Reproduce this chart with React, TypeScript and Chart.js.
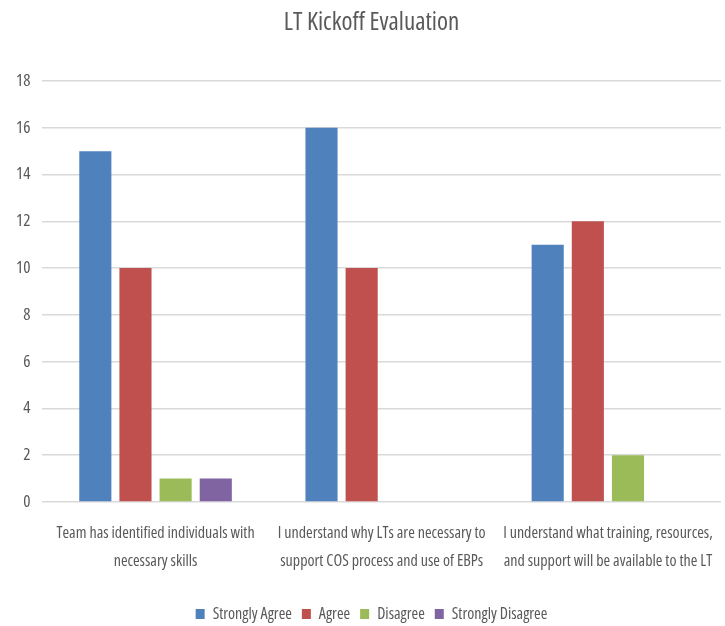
import React, { useEffect, useRef } from "react";
import { Chart, registerables } from "chart.js";
Chart.register(...registerables);

const categories: string[][] = [
  ["Team has identified individuals with", "necessary skills"],
  ["I understand why LTs are necessary to", "support COS process and use of EBPs"],
  ["I understand what training, resources,", "and support will be available to the LT"],
];
const seriesNames = ["Strongly Agree", "Agree", "Disagree", "Strongly Disagree"];
const stronglyAgree = [15, 16, 11];
const agree = [10, 10, 12];
const disagree = [1, 0, 2];
const stronglyDisagree = [1, 0, 0];
const yTickMin = 0;
const yTickMax = 18;
const yTickStep = 2;
const colors = ["#4F81BD", "#C0504D", "#9BBB59", "#8064A2"];

const FONT = "'Open Sans', 'Roboto Condensed', sans-serif";
const W = "normal condensed";

const shiftBoxes = {
  id: "shiftBoxes",
  afterLayout(chart: any) {
    if (chart.titleBlock) chart.titleBlock.left += 18;
    if (chart.legend) chart.legend.left += 18;
  },
};

export default function App() {
  const ref = useRef<HTMLCanvasElement>(null);
  useEffect(() => {
    if (!ref.current) return;
    const values = [stronglyAgree, agree, disagree, stronglyDisagree];
    const chart = new Chart(ref.current, {
      type: "bar",
      data: {
        labels: categories,
        datasets: seriesNames.map((n, i) => ({
          label: n,
          data: values[i],
          backgroundColor: colors[i],
          borderWidth: 0,
          categoryPercentage: 0.71,
          barPercentage: 0.8,
        })),
      },
      plugins: [shiftBoxes],
      options: {
        responsive: false,
        animation: false,
        devicePixelRatio: 1,
        layout: { padding: { left: 4, right: 4, top: 0, bottom: -6 } },
        plugins: {
          title: {
            display: true,
            text: "LT Kickoff Evaluation",
            color: "#595959",
            font: { family: FONT, size: 25, weight: W as any },
            padding: { top: 8, bottom: 43 },
          },
          legend: {
            position: "bottom",
            labels: {
              color: "#595959",
              font: { family: FONT, size: 16, weight: W as any },
              boxWidth: 9,
              boxHeight: 10,
              padding: 10,
            },
          },
          tooltip: { enabled: false },
        },
        scales: {
          x: {
            grid: { display: false },
            border: { display: false },
            afterFit: (scale: any) => {
              scale.height += 12;
            },
            ticks: {
              autoSkip: false,
              color: "#595959",
              font: { family: FONT, size: 16, weight: W as any, lineHeight: 1.75 },
              maxRotation: 0,
              padding: 9,
            },
          },
          y: {
            min: yTickMin,
            max: yTickMax,
            ticks: {
              stepSize: yTickStep,
              color: "#595959",
              font: { family: FONT, size: 17, weight: W as any },
              padding: 12,
            },
            grid: { color: "#d9d9d9", lineWidth: 1.5, drawTicks: false },
            border: { display: false },
          },
        },
      },
    });
    return () => chart.destroy();
  }, []);
  return (
    <div style={{ position: "absolute", left: 0, top: 0, width: 725, height: 626, background: "#fff" }}>
      <canvas ref={ref} width={725} height={626} />
    </div>
  );
}
